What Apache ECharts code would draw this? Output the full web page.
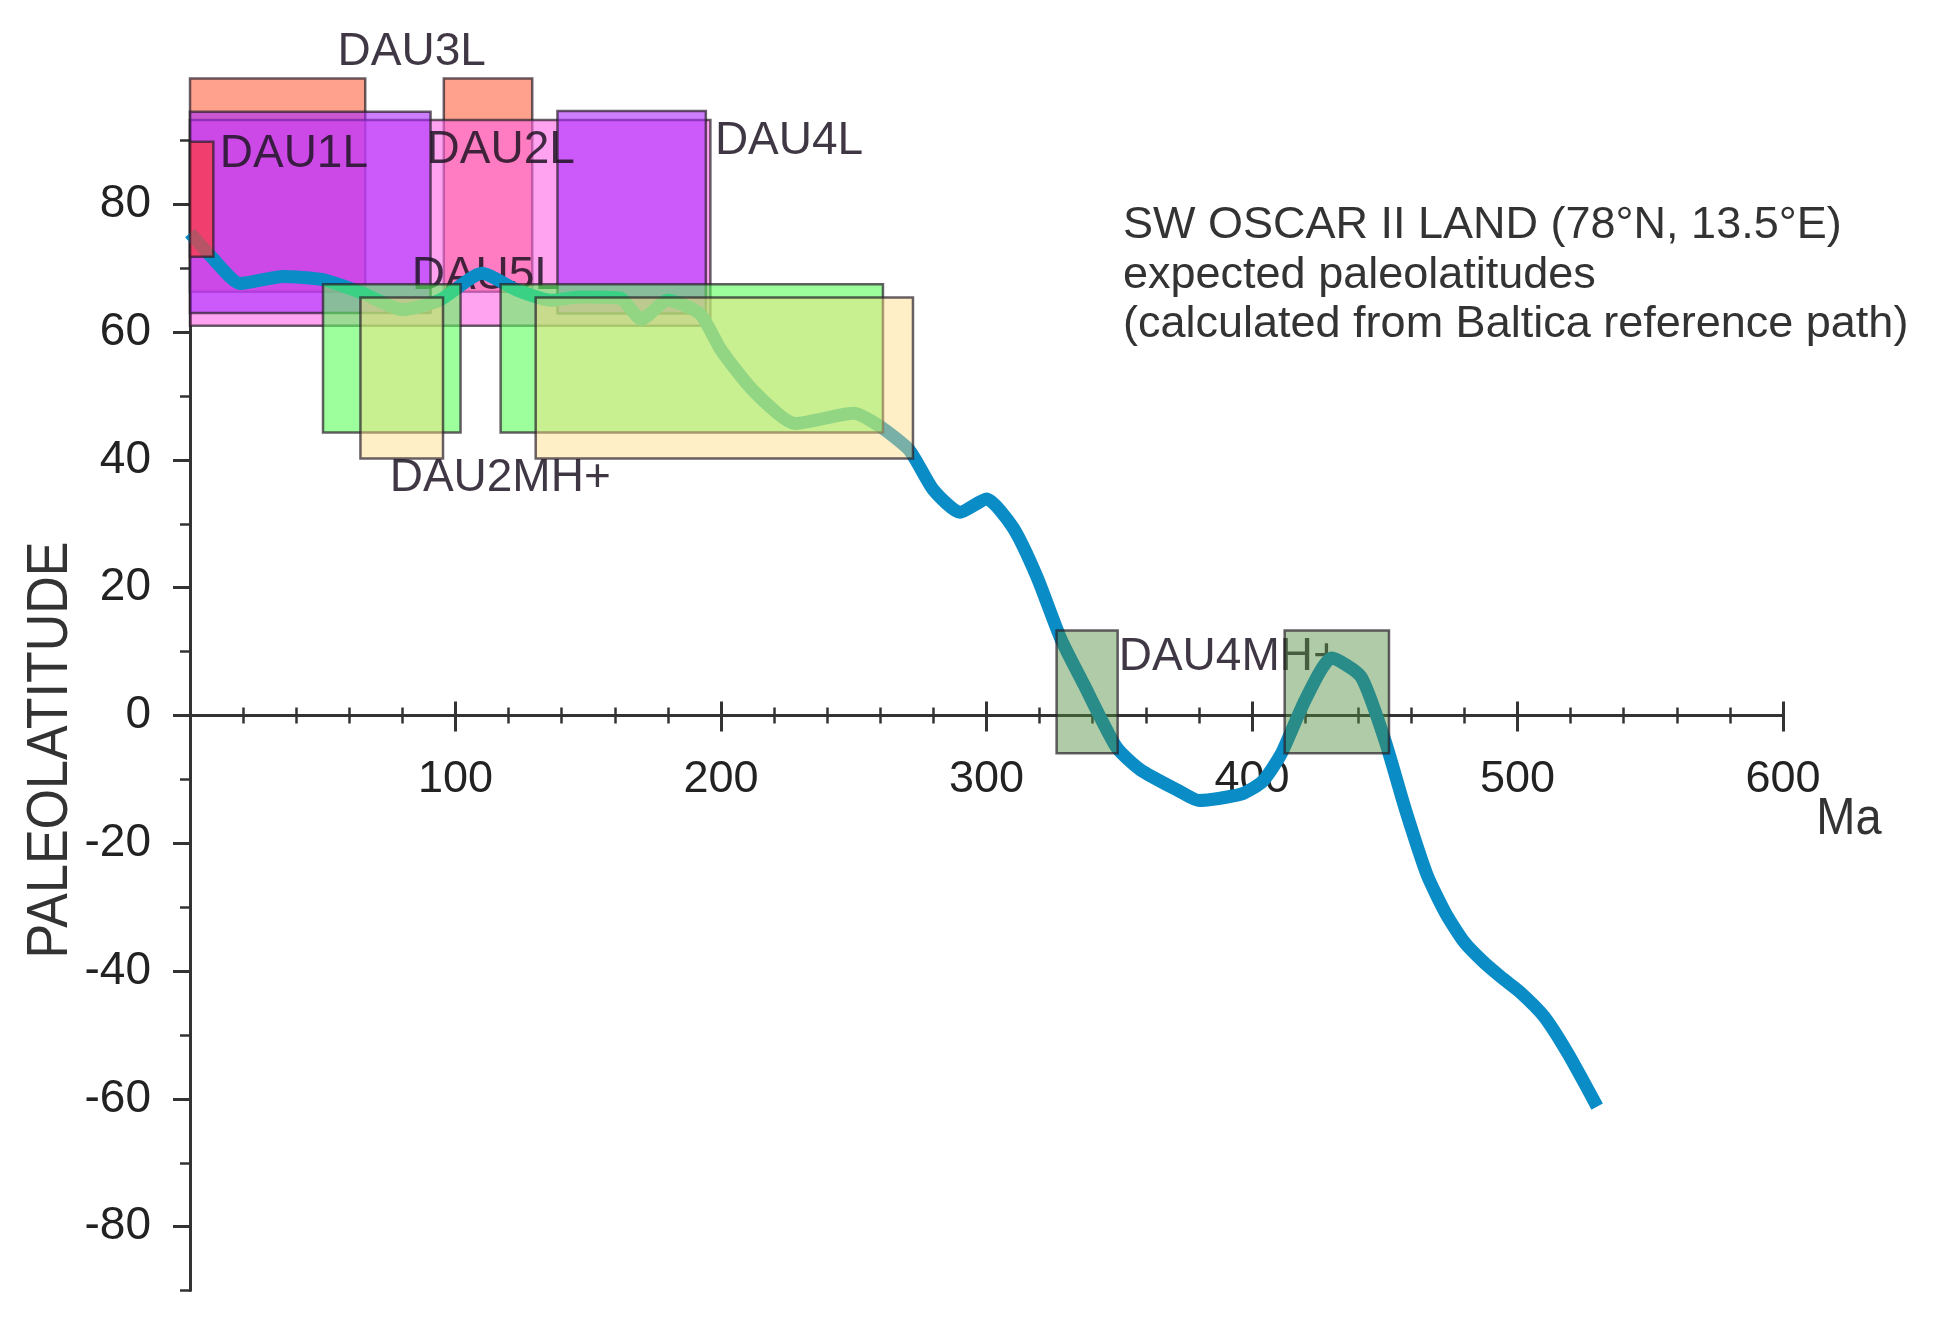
<!DOCTYPE html>
<html><head><meta charset="utf-8">
<script src="https://cdn.jsdelivr.net/npm/echarts@6/dist/echarts.min.js"></script>
<style>html,body{margin:0;padding:0;background:#fff}#c{width:1946px;height:1334px}</style>
</head><body><div id="c"></div>
<script>
// ---- data ----
const curveAge = [0, 8, 19, 35, 50, 65, 80, 94, 110, 123, 136, 147, 162, 170, 180, 192, 200, 212, 228, 250, 260, 271, 280, 290, 300, 310, 319, 328, 336.5, 349, 358, 372, 380, 396, 404, 411, 420, 430, 441, 450, 458, 466, 473, 480, 487, 494, 501, 510, 519, 530];
const curveLat = [75.5, 71.8, 67.6, 68.7, 68.2, 66.1, 63.5, 65, 69.2, 66.6, 65, 65.5, 65.3, 62, 65, 62.9, 57.2, 50.9, 45.7, 47.3, 45.2, 41.5, 35.3, 31.8, 33.9, 29.4, 21.7, 12, 5, -5, -8.5, -11.7, -13.3, -12.3, -10.3, -6, 2.4, 9, 6.1, -3.8, -15, -25, -31, -35.5, -38.5, -41, -43.3, -47.1, -52.9, -61.2];

// boxes: [ageMin, ageMax, latMin, latMax]
const dau3L = [[0, 66, 66.3, 99.7], [95.6, 128.9, 66.3, 99.7]];
const dau2L = [[0, 196, 61, 93.2]];
const dau1L = [[0, 90.6, 63, 94.5]];
const dau4L = [[138.4, 194.3, 62.9, 94.6]];
const dau1Lred = [[0, 8.8, 71.8, 89.8]];
const dau5L = [[50.1, 101.9, 44.3, 67.5], [117, 261, 44.3, 67.5]];
const dau2MH = [[64.2, 95.3, 40.2, 65.4], [130.2, 272.3, 40.2, 65.4]];
const dau4MH = [[326.4, 349.4, -5.9, 13.3], [412.3, 451.6, -5.9, 13.3]];

const boxLabels = ['DAU3L', 'DAU1L', 'DAU2L', 'DAU4L', 'DAU5L', 'DAU2MH+', 'DAU4MH+'];
const labelAge = [55.6, 11.2, 89.1, 197.7, 83.5, 75.2, 349.8];
const labelLat = [103.8, 87.8, 88.4, 89.9, 68.7, 37.1, 9.1];

const yLabelValues = [-80, -60, -40, -20, 0, 20, 40, 60, 80];
const noteLines = ['SW OSCAR II LAND (78\u00b0N, 13.5\u00b0E)', 'expected paleolatitudes', '(calculated from Baltica reference path)'];

// ---- chart ----
const font = "'Liberation Sans', Arial, sans-serif";
const chart = echarts.init(document.getElementById('c'));

const gridTop = 140.4, gridBottom = 43.4, chartH = 1334;
const yMin = -90, yMax = 90;
// pixel distance from the grid bottom edge up to latitude 0 (keeps the labelled x axis on zero)
const zeroOffset = -((chartH - gridBottom - gridTop) * (0 - yMin) / (yMax - yMin));

function boxSeries(name, data, fill, z) {
  return {
    type: 'custom', name: name, z: z, clip: false, silent: true, data: data,
    encode: { x: [0, 1], y: [2, 3] },
    renderItem: function (params, api) {
      const a = api.coord([api.value(0), api.value(3)]);
      const b = api.coord([api.value(1), api.value(2)]);
      return {
        type: 'rect',
        shape: { x: a[0], y: a[1], width: b[0] - a[0], height: b[1] - a[1] },
        style: { fill: fill, stroke: 'rgba(40,30,40,0.7)', lineWidth: 2.5 }
      };
    }
  };
}

const option = {
  animation: false,
  backgroundColor: '#fff',
  grid: { left: 190, right: 163, top: gridTop, bottom: gridBottom, outerBoundsMode: 'none' },
  xAxis: [
    {
      type: 'value', min: 0, max: 600, interval: 100, position: 'bottom', offset: zeroOffset,
      axisLine: { onZero: false, lineStyle: { color: '#333', width: 3 } },
      axisTick: { length: 16, lineStyle: { color: '#333', width: 3 } },
      minorTick: { show: true, splitNumber: 5, length: 8, lineStyle: { color: '#333', width: 2.5 } },
      axisLabel: {
        formatter: function (v) { return v === 0 ? '' : String(v); },
        fontSize: 45, color: '#222', fontFamily: font, margin: 42
      },
      splitLine: { show: false }, minorSplitLine: { show: false }
    },
    {
      type: 'value', min: 0, max: 600, interval: 100, position: 'top',
      axisLine: { onZero: true, lineStyle: { color: '#333', width: 3 } },
      axisTick: { length: 14, lineStyle: { color: '#333', width: 3 } },
      minorTick: { show: true, splitNumber: 5, length: 8, lineStyle: { color: '#333', width: 2.5 } },
      axisLabel: { show: false },
      splitLine: { show: false }, minorSplitLine: { show: false }
    }
  ],
  yAxis: [
    {
      type: 'value', min: yMin, max: yMax, interval: 10, position: 'left',
      axisLine: { onZero: false, lineStyle: { color: '#333', width: 3 } },
      axisTick: { length: 10, lineStyle: { color: '#333', width: 2.5 } },
      axisLabel: { customValues: yLabelValues, fontSize: 46, color: '#222', fontFamily: font, margin: 39 },
      splitLine: { show: false }
    },
    {
      type: 'value', min: yMin, max: yMax, interval: 10, position: 'left',
      axisLine: { show: false, onZero: false },
      axisTick: { customValues: yLabelValues, length: 17, lineStyle: { color: '#333', width: 3 } },
      axisLabel: { show: false },
      splitLine: { show: false }
    }
  ],
  graphic: [
    { type: 'text', x: 1123, y: 226, style: { text: noteLines[0], fontSize: 45, fontFamily: font, fill: '#333', verticalAlign: 'middle' } },
    { type: 'text', x: 1123, y: 275.5, style: { text: noteLines[1], fontSize: 45, fontFamily: font, fill: '#333', verticalAlign: 'middle' } },
    { type: 'text', x: 1123, y: 325, style: { text: noteLines[2], fontSize: 45, fontFamily: font, fill: '#333', verticalAlign: 'middle' } },
    { type: 'text', x: 51, y: 750, rotation: Math.PI / 2, scaleY: 1.12,
      style: { text: 'PALEOLATITUDE', fontSize: 52, fontFamily: font, fill: '#333', align: 'center', verticalAlign: 'middle' } },
    { type: 'text', x: 1849, y: 819, scaleY: 1.12,
      style: { text: 'Ma', fontSize: 47, fontFamily: font, fill: '#333', align: 'center', verticalAlign: 'middle' } }
  ],
  series: [
    boxSeries('DAU3L', dau3L, 'rgba(255,110,80,0.65)', 2),
    boxSeries('DAU2L', dau2L, 'rgba(255,100,230,0.6)', 3),
    boxSeries('DAU1L', dau1L, 'rgba(170,40,255,0.6)', 4),
    boxSeries('DAU4L', dau4L, 'rgba(170,40,255,0.6)', 4),
    {
      type: 'custom', name: 'labels', z: 5, clip: false, silent: true,
      data: labelAge.map(function (a, i) { return [a, labelLat[i]]; }),
      renderItem: function (params, api) {
        const p = api.coord([api.value(0), api.value(1)]);
        return {
          type: 'text', x: p[0], y: p[1],
          style: { text: boxLabels[params.dataIndex], fontSize: 46, fontFamily: font,
                   fill: 'rgba(30,20,35,0.85)', align: 'left', verticalAlign: 'middle' }
        };
      }
    },
    {
      type: 'line', name: 'paleolatitude', z: 6, clip: false, showSymbol: false, symbol: 'none',
      smooth: 0.2,
      data: curveAge.map(function (a, i) { return [a, curveLat[i]]; }),
      lineStyle: { color: '#0a8cc6', width: 13 }
    },
    boxSeries('DAU1L red', dau1Lred, 'rgba(255,60,60,0.7)', 7),
    boxSeries('DAU5L', dau5L, 'rgba(90,255,90,0.6)', 8),
    boxSeries('DAU2MH+', dau2MH, 'rgba(255,220,130,0.45)', 9),
    boxSeries('DAU4MH+', dau4MH, 'rgba(80,140,60,0.45)', 10)
  ]
};
chart.setOption(option);
</script>
</body></html>
